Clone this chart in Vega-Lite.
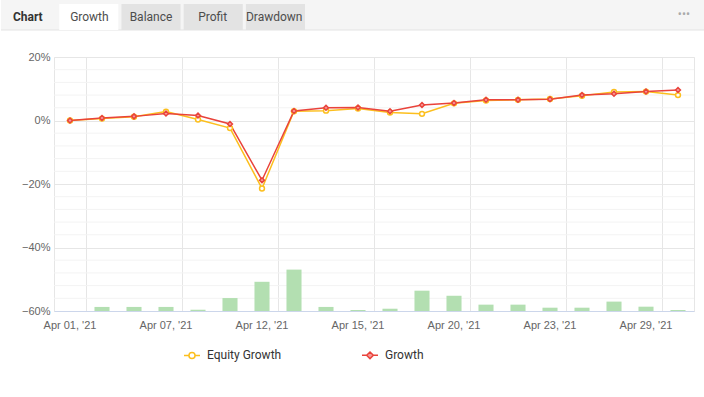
{
  "$schema": "https://vega.github.io/schema/vega-lite/v6.json",
  "padding": 0,
  "background": "#ffffff",
  "spacing": 19,
  "config": {
    "font": "Roboto",
    "view": {"stroke": null}
  },
  "datasets": {
    "tabs": [
      {"tab": "Chart"},
      {"tab": "Growth"},
      {"tab": "Balance"},
      {"tab": "Profit"},
      {"tab": "Drawdown"}
    ],
    "minorGrid": [
      {"level": -56}, {"level": -52}, {"level": -48}, {"level": -44},
      {"level": -36}, {"level": -32}, {"level": -28}, {"level": -24},
      {"level": -16}, {"level": -12}, {"level": -8}, {"level": -4},
      {"level": 4}, {"level": 8}, {"level": 12}, {"level": 16}
    ],
    "days": [
      {"day": "Apr 01, '21", "volume": 0},
      {"day": "Apr 05, '21", "volume": 1.6},
      {"day": "Apr 06, '21", "volume": 1.6},
      {"day": "Apr 07, '21", "volume": 1.6},
      {"day": "Apr 08, '21", "volume": 0.5},
      {"day": "Apr 09, '21", "volume": 5.1},
      {"day": "Apr 12, '21", "volume": 11.5},
      {"day": "Apr 13, '21", "volume": 16.3},
      {"day": "Apr 14, '21", "volume": 1.6},
      {"day": "Apr 15, '21", "volume": 0.4},
      {"day": "Apr 16, '21", "volume": 0.9},
      {"day": "Apr 19, '21", "volume": 8.0},
      {"day": "Apr 20, '21", "volume": 6.0},
      {"day": "Apr 21, '21", "volume": 2.5},
      {"day": "Apr 22, '21", "volume": 2.5},
      {"day": "Apr 23, '21", "volume": 1.3},
      {"day": "Apr 26, '21", "volume": 1.3},
      {"day": "Apr 27, '21", "volume": 3.7},
      {"day": "Apr 29, '21", "volume": 1.7},
      {"day": "Apr 30, '21", "volume": 0.4}
    ],
    "growth": [
      {"day": "Apr 01, '21", "series": "Equity Growth", "value": 0.0},
      {"day": "Apr 05, '21", "series": "Equity Growth", "value": 0.6},
      {"day": "Apr 06, '21", "series": "Equity Growth", "value": 1.2},
      {"day": "Apr 07, '21", "series": "Equity Growth", "value": 2.8},
      {"day": "Apr 08, '21", "series": "Equity Growth", "value": 0.3},
      {"day": "Apr 09, '21", "series": "Equity Growth", "value": -2.4},
      {"day": "Apr 12, '21", "series": "Equity Growth", "value": -21.4},
      {"day": "Apr 13, '21", "series": "Equity Growth", "value": 2.9},
      {"day": "Apr 14, '21", "series": "Equity Growth", "value": 3.1},
      {"day": "Apr 15, '21", "series": "Equity Growth", "value": 3.8},
      {"day": "Apr 16, '21", "series": "Equity Growth", "value": 2.5},
      {"day": "Apr 19, '21", "series": "Equity Growth", "value": 2.1},
      {"day": "Apr 20, '21", "series": "Equity Growth", "value": 5.4},
      {"day": "Apr 21, '21", "series": "Equity Growth", "value": 6.3},
      {"day": "Apr 22, '21", "series": "Equity Growth", "value": 6.5},
      {"day": "Apr 23, '21", "series": "Equity Growth", "value": 6.8},
      {"day": "Apr 26, '21", "series": "Equity Growth", "value": 7.8},
      {"day": "Apr 27, '21", "series": "Equity Growth", "value": 9.0},
      {"day": "Apr 29, '21", "series": "Equity Growth", "value": 9.1},
      {"day": "Apr 30, '21", "series": "Equity Growth", "value": 8.0},
      {"day": "Apr 01, '21", "series": "Growth", "value": 0.0},
      {"day": "Apr 05, '21", "series": "Growth", "value": 0.8},
      {"day": "Apr 06, '21", "series": "Growth", "value": 1.3},
      {"day": "Apr 07, '21", "series": "Growth", "value": 2.2},
      {"day": "Apr 08, '21", "series": "Growth", "value": 1.6},
      {"day": "Apr 09, '21", "series": "Growth", "value": -1.1},
      {"day": "Apr 12, '21", "series": "Growth", "value": -18.8},
      {"day": "Apr 13, '21", "series": "Growth", "value": 3.0},
      {"day": "Apr 14, '21", "series": "Growth", "value": 4.0},
      {"day": "Apr 15, '21", "series": "Growth", "value": 4.1},
      {"day": "Apr 16, '21", "series": "Growth", "value": 2.9},
      {"day": "Apr 19, '21", "series": "Growth", "value": 4.9},
      {"day": "Apr 20, '21", "series": "Growth", "value": 5.5},
      {"day": "Apr 21, '21", "series": "Growth", "value": 6.5},
      {"day": "Apr 22, '21", "series": "Growth", "value": 6.5},
      {"day": "Apr 23, '21", "series": "Growth", "value": 6.7},
      {"day": "Apr 26, '21", "series": "Growth", "value": 8.0},
      {"day": "Apr 27, '21", "series": "Growth", "value": 8.4},
      {"day": "Apr 29, '21", "series": "Growth", "value": 9.1},
      {"day": "Apr 30, '21", "series": "Growth", "value": 9.6}
    ]
  },
  "vconcat": [
    {
      "width": 651,
      "height": 30,
      "data": {"name": "tabs"},
      "resolve": {"scale": {"x": "independent"}},
      "layer": [
        {
          "data": {"values": [{"strip": "header"}]},
          "mark": {"type": "rect", "color": "#f5f5f5"},
          "encoding": {
            "x": {"datum": 0, "type": "quantitative", "scale": {"domain": [0, 704], "range": [-53, 651]}, "axis": null},
            "x2": {"datum": 704},
            "y": {"datum": 1, "type": "quantitative", "scale": {"domain": [0, 1]}, "axis": null},
            "y2": {"datum": 0}
          }
        },
        {
          "data": {"values": [{"strip": "border"}]},
          "mark": {"type": "rule", "color": "#e3e3e3", "strokeWidth": 1},
          "encoding": {
            "x": {"datum": 0, "type": "quantitative", "scale": {"domain": [0, 704], "range": [-53, 651]}, "axis": null},
            "x2": {"datum": 704},
            "y": {"datum": 0, "type": "quantitative"}
          }
        },
        {
          "transform": [{"filter": "datum.tab !== 'Chart'"}],
          "mark": {"type": "bar"},
          "encoding": {
            "x": {
              "field": "tab", "type": "nominal", "sort": null, "axis": null,
              "scale": {"domain": ["Chart", "Growth", "Balance", "Profit", "Drawdown"], "range": [-57, 251], "paddingInner": 0.05, "paddingOuter": 0}
            },
            "y": {"datum": 0.867, "type": "quantitative"},
            "y2": {"datum": 0},
            "fill": {
              "field": "tab", "type": "nominal", "legend": null,
              "scale": {"domain": ["Growth", "Balance", "Profit", "Drawdown"], "range": ["#ffffff", "#e3e3e3", "#e3e3e3", "#e3e3e3"]}
            }
          }
        },
        {
          "transform": [{"filter": "datum.tab === 'Chart'"}],
          "mark": {"type": "text", "fontSize": 12, "fontWeight": "bold", "color": "#333333", "baseline": "middle"},
          "encoding": {
            "x": {
              "field": "tab", "type": "nominal", "sort": null, "axis": null,
              "scale": {"domain": ["Chart", "Growth", "Balance", "Profit", "Drawdown"], "range": [-57, 251], "paddingInner": 0.05, "paddingOuter": 0}
            },
            "y": {"datum": 0.433, "type": "quantitative"},
            "text": {"field": "tab"}
          }
        },
        {
          "transform": [{"filter": "datum.tab !== 'Chart'"}],
          "mark": {"type": "text", "fontSize": 12, "color": "#4d4d4d", "baseline": "middle"},
          "encoding": {
            "x": {
              "field": "tab", "type": "nominal", "sort": null, "axis": null,
              "scale": {"domain": ["Chart", "Growth", "Balance", "Profit", "Drawdown"], "range": [-57, 251], "paddingInner": 0.05, "paddingOuter": 0}
            },
            "y": {"datum": 0.433, "type": "quantitative"},
            "text": {"field": "tab"}
          }
        },
        {
          "data": {"values": [{"menu": "more"}]},
          "mark": {"type": "text", "text": "•••", "align": "right", "dx": -15, "fontSize": 12, "color": "#aaaaaa", "baseline": "middle"},
          "encoding": {
            "x": {"datum": 704, "type": "quantitative", "scale": {"domain": [0, 704], "range": [-53, 651]}, "axis": null},
            "y": {"datum": 0.53, "type": "quantitative"}
          }
        }
      ]
    },
    {
      "width": 640,
      "height": 254,
      "view": {"stroke": "#e6e6e6"},
      "resolve": {"scale": {"y": "independent"}},
      "layer": [
        {
          "data": {"name": "minorGrid"},
          "mark": {"type": "rule", "color": "#f3f3f3", "strokeWidth": 1},
          "encoding": {
            "y": {"field": "level", "type": "quantitative", "scale": {"domain": [-60, 20], "nice": false, "zero": false}, "axis": null}
          }
        },
        {
          "data": {"name": "days"},
          "mark": {"type": "bar", "color": "#b3dfb1", "width": {"band": 0.47}},
          "encoding": {
            "x": {
              "field": "day", "type": "ordinal", "sort": null,
              "scale": {"paddingInner": 0, "paddingOuter": 0},
              "axis": {
                "title": null,
                "values": ["Apr 01, '21", "Apr 07, '21", "Apr 12, '21", "Apr 15, '21", "Apr 20, '21", "Apr 23, '21", "Apr 29, '21"],
                "bandPosition": 1,
                "ticks": false,
                "labelAngle": 0,
                "labelPadding": 8,
                "labelFont": "Liberation Sans",
                "labelFontSize": 11,
                "labelColor": "#666666",
                "domainColor": "#ccd6eb",
                "grid": true,
                "gridColor": "#e6e6e6"
              }
            },
            "y": {"field": "volume", "type": "quantitative", "scale": {"domain": [0, 100]}, "axis": null}
          }
        },
        {
          "data": {"name": "growth"},
          "layer": [
            {
              "mark": {"type": "line", "strokeWidth": 1.5},
              "encoding": {
                "x": {"field": "day", "type": "ordinal", "sort": null},
                "y": {
                  "field": "value", "type": "quantitative",
                  "scale": {"domain": [-60, 20], "nice": false, "zero": false},
                  "axis": {
                    "title": null,
                    "values": [-60, -40, -20, 0, 20],
                    "labelExpr": "format(datum.value, 'd') + '%'",
                    "ticks": false,
                    "domain": false,
                    "labelPadding": 4,
                    "minExtent": 53,
                    "labelFont": "Liberation Sans",
                    "labelFontSize": 11,
                    "labelColor": "#666666",
                    "labelOverlap": false,
                    "labelBound": false,
                    "labelFlush": false,
                    "grid": true,
                    "gridColor": "#e6e6e6"
                  }
                },
                "stroke": {
                  "field": "series", "type": "nominal",
                  "scale": {"domain": ["Equity Growth", "Growth"], "range": ["#fcbf1e", "#e9433b"]},
                  "legend": {
                    "title": null,
                    "orient": "none",
                    "direction": "horizontal",
                    "legendX": 129,
                    "legendY": 346,
                    "columnPadding": 77,
                    "labelFont": "Roboto",
                    "labelFontSize": 12,
                    "labelColor": "#333333",
                    "labelOffset": 6,
                    "symbolSize": 256,
                    "symbolStrokeWidth": 1.5,
                    "encode": {
                      "symbols": {
                        "update": {
                          "shape": {"signal": "datum.value === 'Growth' ? 'M-1,0H-0.42M0.42,0H1M0,-0.42L0.42,0L0,0.42L-0.42,0Z' : 'M-1,0H-0.38M0.38,0H1M-0.38,0A0.38,0.38 0 1,1 0.38,0A0.38,0.38 0 1,1 -0.38,0Z'"},
                          "fill": {"signal": "datum.value === 'Growth' ? '#f79a9a' : '#ffffff'"},
                          "strokeWidth": {"value": 1.5}
                        }
                      }
                    }
                  }
                }
              }
            },
            {
              "transform": [{"filter": "datum.series === 'Equity Growth'"}],
              "mark": {"type": "point", "shape": "circle", "filled": true, "fill": "#ffffff", "size": 24, "strokeWidth": 1.5, "opacity": 1},
              "encoding": {
                "x": {"field": "day", "type": "ordinal", "sort": null},
                "y": {"field": "value", "type": "quantitative"},
                "stroke": {"field": "series", "type": "nominal", "legend": null}
              }
            },
            {
              "transform": [{"filter": "datum.series === 'Growth'"}],
              "mark": {"type": "point", "shape": "diamond", "filled": true, "fill": "#f79a9a", "size": 24, "strokeWidth": 1.5, "opacity": 1},
              "encoding": {
                "x": {"field": "day", "type": "ordinal", "sort": null},
                "y": {"field": "value", "type": "quantitative"},
                "stroke": {"field": "series", "type": "nominal", "legend": null}
              }
            }
          ]
        }
      ]
    }
  ]
}
